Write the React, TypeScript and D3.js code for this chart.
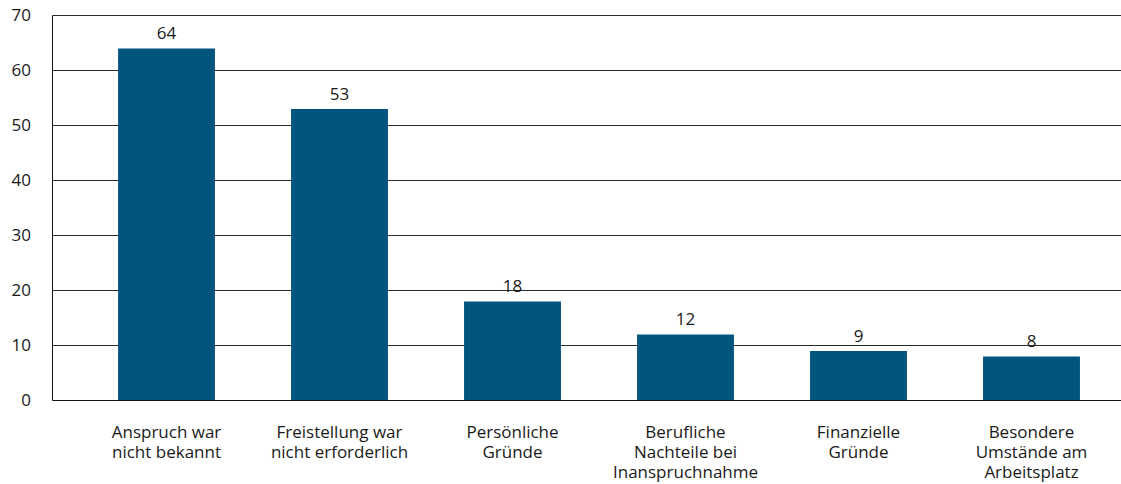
import React, { useEffect, useRef } from "react";
import * as d3 from "d3";

const categories: string[][] = [
  ["Anspruch war", "nicht bekannt"],
  ["Freistellung war", "nicht erforderlich"],
  ["Persönliche", "Gründe"],
  ["Berufliche", "Nachteile bei", "Inanspruchnahme"],
  ["Finanzielle", "Gründe"],
  ["Besondere", "Umstände am", "Arbeitsplatz"],
];
const values: number[] = [64, 53, 18, 12, 9, 8];
const yTicks: number[] = [0, 10, 20, 30, 40, 50, 60, 70];

const W = 1121;
const H = 484;
const FONT = "'Open Sans', 'Noto Sans', sans-serif";

export default function App() {
  const ref = useRef<SVGSVGElement>(null);
  useEffect(() => {
    const svg = d3.select(ref.current);
    svg.selectAll("*").remove();
    const left = 52.5;
    const right = W;
    const top = 15.5;
    const bottom = 400.5;
    const keys = categories.map((_, i) => String(i));
    const x = d3.scaleBand<string>().domain(keys).range([80, 1118]).paddingInner(0.44).paddingOuter(0.22);
    const y = d3.scaleLinear().domain([0, 70]).range([bottom, top]);

    svg.append("g")
      .selectAll("line")
      .data(yTicks.filter((t) => t > 0))
      .join("line")
      .attr("x1", left)
      .attr("x2", right)
      .attr("y1", (d) => y(d))
      .attr("y2", (d) => y(d))
      .attr("stroke", "#2b2b2b")
      .attr("stroke-width", 1);

    svg.append("g")
      .selectAll("text")
      .data(yTicks)
      .join("text")
      .attr("x", 31)
      .attr("y", (d) => y(d))
      .attr("dy", "0.35em")
      .attr("text-anchor", "end")
      .attr("font-family", FONT)
      .attr("font-size", 17)
      .attr("fill", "#1a1a1a")
      .text((d) => d);

    svg.append("g")
      .selectAll("rect")
      .data(values)
      .join("rect")
      .attr("x", (_, i) => x(String(i))!)
      .attr("width", x.bandwidth())
      .attr("y", (d) => y(d))
      .attr("height", (d) => y(0) - y(d))
      .attr("fill", "#02557f");

    svg.append("g")
      .selectAll("text")
      .data(values)
      .join("text")
      .attr("x", (_, i) => x(String(i))! + x.bandwidth() / 2)
      .attr("y", (d) => y(d) - 9.5)
      .attr("text-anchor", "middle")
      .attr("font-family", FONT)
      .attr("font-size", 17)
      .attr("fill", "#1a1a1a")
      .text((d) => d);

    svg.append("line")
      .attr("x1", left).attr("x2", left)
      .attr("y1", top).attr("y2", bottom)
      .attr("stroke", "#111").attr("stroke-width", 1);
    svg.append("line")
      .attr("x1", left).attr("x2", right)
      .attr("y1", bottom).attr("y2", bottom)
      .attr("stroke", "#111").attr("stroke-width", 1);

    const cg = svg.append("g")
      .selectAll("text")
      .data(categories)
      .join("text")
      .attr("text-anchor", "middle")
      .attr("font-family", FONT)
      .attr("font-size", 17)
      .attr("fill", "#1a1a1a")
      .attr("transform", (_, i) => `translate(${x(String(i))! + x.bandwidth() / 2},${438})`);
    cg.selectAll("tspan")
      .data((d) => d)
      .join("tspan")
      .attr("x", 0)
      .attr("y", (_, j) => j * 20)
      .text((d) => d);
  }, []);
  return (
    <svg
      ref={ref}
      width={W}
      height={H}
      style={{ position: "absolute", left: 0, top: 0, background: "#fff" }}
    />
  );
}
